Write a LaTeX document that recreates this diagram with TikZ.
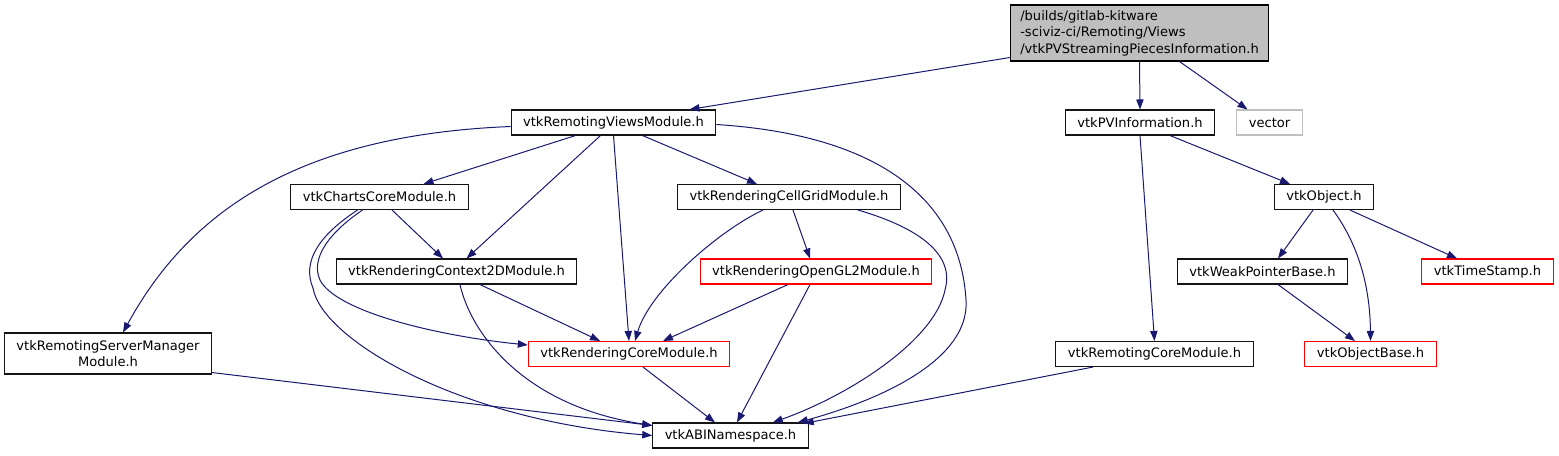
\documentclass[tikz,border=0pt]{standalone}
\usepackage{fontspec}
\setmainfont{DejaVu Sans}
\usepackage{tikz}
\usetikzlibrary{arrows.meta,calc}

\begin{document}
\begin{tikzpicture}[x=0.75pt,y=0.75pt,yscale=-1,xscale=1,
  box/.style={draw={rgb, 255:red, 20; green, 20; blue, 20 }, fill=white, line width=0.8pt, minimum height=18.75pt, inner xsep=9pt, inner ysep=2pt, font=\fontsize{9.8}{11.5}\selectfont},
  redbox/.style={box, draw={rgb, 255:red, 255; green, 0; blue, 0 }},
  greybox/.style={box, draw={rgb, 255:red, 191; green, 191; blue, 191 }},
  mainbox/.style={box, draw=black, fill={rgb, 255:red, 191; green, 191; blue, 191 }, align=left, inner xsep=7.5pt, minimum height=42pt, font=\fontsize{9.8}{12.3}\selectfont},
  dep/.style={draw={rgb, 255:red, 25; green, 25; blue, 112 }, line width=0.75pt, -{Triangle[length=7.5pt,width=5.5pt]}}]
\useasboundingbox (0,0) rectangle (1559,455);

% Text Node
\node [mainbox] (main) at (1139.5,33) {/builds/gitlab-kitware\\-sciviz-ci/Remoting/Views\\/vtkPVStreamingPiecesInformation.h};
% Text Node
\node [box] (rvm) at (613.5,122.5) {vtkRemotingViewsModule.h};
% Text Node
\node [box] (pvinfo) at (1140,122.5) {vtkPVInformation.h};
% Text Node
\node [greybox] (vect) at (1269.5,122.5) {vector};
% Text Node
\node [box] (charts) at (379.5,197) {vtkChartsCoreModule.h};
% Text Node
\node [box] (cellgrid) at (789,197) {vtkRenderingCellGridModule.h};
% Text Node
\node [box] (vobject) at (1324,197) {vtkObject.h};
% Text Node
\node [box] (ctx2d) at (456.5,271.5) {vtkRenderingContext2DModule.h};
% Text Node
\node [redbox] (opengl) at (816,271.5) {vtkRenderingOpenGL2Module.h};
% Text Node
\node [box] (weakptr) at (1262.5,271.5) {vtkWeakPointerBase.h};
% Text Node
\node [redbox] (tstamp) at (1487.5,271.5) {vtkTimeStamp.h};
% Text Node
\node [box, align=center, minimum height=30.75pt, font=\fontsize{9.8}{12}\selectfont] (srvmgr) at (108,353.5) {vtkRemotingServerManager\\Module.h};
% Text Node
\node [redbox] (rcore) at (629,354) {vtkRenderingCoreModule.h};
% Text Node
\node [box] (remcore) at (1154.5,354) {vtkRemotingCoreModule.h};
% Text Node
\node [redbox] (objbase) at (1370.5,354) {vtkObjectBase.h};
% Text Node
\node [box] (abi) at (730.5,435.5) {vtkABINamespace.h};

%Straight Lines
\draw [dep] ($(main.south west)+(0,-4)$) -- ($(rvm.north)+(76,0)$);
\draw [dep] (main.south) -- (pvinfo.north);
\draw [dep] ($(main.south)+(40,0)$) -- ($(vect.north)+(-22,0)$);
\draw [dep] ($(rvm.south)+(-38,0)$) -- ($(charts.north)+(44,0)$);
\draw [dep] ($(rvm.south)+(-13,0)$) -- ($(ctx2d.north)+(10,0)$);
\draw [dep] (rvm.south) -- (rcore.north);
\draw [dep] ($(rvm.south)+(29,0)$) -- ($(cellgrid.north)+(-32,0)$);
%Curve Lines
\draw [dep] ($(rvm.west)+(0,4)$) .. controls (300,135) and (190,210) .. ($(srvmgr.north)+(15,0)$);
\draw [dep] ($(rvm.east)+(0,2)$) .. controls (880,135) and (960,200) .. (966,300) .. controls (970,360) and (880,400) .. ($(abi.north east)+(-11,0)$);

%Straight Lines
\draw [dep] ($(charts.south)+(12.5,0)$) -- ($(ctx2d.north)+(-13.5,0)$);
%Curve Lines
\draw [dep] ($(charts.south)+(-17,0)$) .. controls (330,232) and (310,258) .. (320,280) .. controls (335,310) and (430,335) .. ($(rcore.west)+(0,-9)$);
\draw [dep] ($(charts.south)+(-22,0)$) .. controls (318,236) and (302,262) .. (313,288) .. controls (322,340) and (460,420) .. (abi.west);

%Straight Lines
\draw [dep] ($(ctx2d.south)+(23.5,0)$) -- ($(rcore.north)+(-29,0)$);
%Curve Lines
\draw [dep] ($(ctx2d.south)+(3.5,0)$) .. controls (470,330) and (520,405) .. ($(abi.north west)+(0,3)$);
%Straight Lines
\draw [dep] ($(srvmgr.south east)+(0,-2)$) -- ($(abi.north west)+(0,3)$);

%Straight Lines
\draw [dep] ($(cellgrid.south)+(4,0)$) -- ($(opengl.north)+(-6,0)$);
%Curve Lines
\draw [dep] ($(cellgrid.south)+(-26,0)$) .. controls (720,230) and (650,290) .. ($(rcore.north)+(6,0)$);
\draw [dep] ($(cellgrid.south)+(69,0)$) .. controls (920,228) and (955,255) .. (945,290) .. controls (935,340) and (850,395) .. ($(abi.north east)+(-36,0)$);

%Straight Lines
\draw [dep] ($(opengl.south)+(-28,0)$) -- ($(rcore.north)+(34,0)$);
\draw [dep] ($(opengl.south)+(-6,0)$) -- ($(abi.north)+(6.5,0)$);
\draw [dep] ($(rcore.south)+(14,0)$) -- ($(abi.north)+(-15.5,0)$);
\draw [dep] ($(remcore.south)+(-61.5,0)$) -- ($(abi.north east)+(-5,1)$);

%Straight Lines
\draw [dep] (pvinfo.south) -- (remcore.north);
\draw [dep] ($(pvinfo.south)+(30,0)$) -- ($(vobject.north)+(-34,0)$);
\draw [dep] ($(vobject.south)+(-11,0)$) -- ($(weakptr.north)+(15.5,0)$);
\draw [dep] ($(vobject.south)+(26,0)$) -- ($(tstamp.north)+(-30.5,0)$);
%Curve Lines
\draw [dep] ($(vobject.south)+(9,0)$) .. controls (1355,240) and (1370,280) .. (objbase.north);
%Straight Lines
\draw [dep] ($(weakptr.south)+(15.5,0)$) -- ($(objbase.north)+(-15.5,0)$);

\end{tikzpicture}
\end{document}
